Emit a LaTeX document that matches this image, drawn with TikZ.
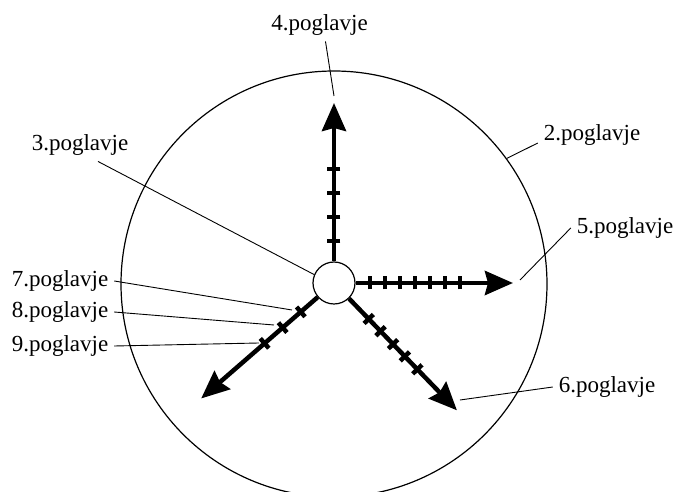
\documentclass[tikz,border=0pt]{standalone}
\usepackage{fontspec}
\setmainfont{Liberation Serif}
\usetikzlibrary{arrows.meta,positioning}

\begin{document}
\begin{tikzpicture}[x=1pt, y=1pt,
    hub/.style={draw, circle, minimum size=42pt, inner sep=0pt, line width=1.2pt, fill=white},
    rim/.style={draw, circle, minimum size=426pt, inner sep=0pt, line width=1.2pt},
    chapter/.style={font=\fontsize{23}{27}\selectfont, inner sep=4pt, outer sep=2pt},
    ray/.style={line width=4.5pt, -{Stealth[length=28pt, width=24pt, inset=3pt]}},
    notch/.style={line width=4.5pt},
    leader/.style={line width=0.9pt},
]

\useasboundingbox (-334,-209) rectangle (344,283);
\clip (-334,-209) rectangle (344,283);

% Circles
\node[rim] (disc) at (0,-1) {};
\node[hub] (hub) at (0,0) {};

% Rays
\coordinate (tipUp) at (90:180);
\coordinate (tipRight) at (0:179);
\coordinate (tipDR) at (-46:177);
\coordinate (tipDL) at (-139:176);
\draw[ray] (hub) -- (tipUp);
\draw[ray] (hub) -- (tipRight);
\draw[ray] (hub) -- (tipDR);
\draw[ray] (hub) -- (tipDL);

% Notches
\foreach \d in {42,66,90,114} \draw[notch, rotate=90] (\d,-6.5) -- (\d,6.5);
\foreach \d in {36,51,66,81,96,111,126} \draw[notch] (\d,-6.5) -- (\d,6.5);
\foreach \d in {50,67,85,102,120} \draw[notch, rotate=-46] (\d,-6.5) -- (\d,6.5);
\foreach \d in {44,68,92} \draw[notch, rotate=-139] (\d,-6.5) -- (\d,6.5);

% Labels
\node[chapter] (ch4) at (-14.5,258) {4.poglavje};
\node[chapter] (ch3) at (-254,138) {3.poglavje};
\node[chapter] (ch2) at (258,148) {2.poglavje};
\node[chapter] (ch5) at (291,55) {5.poglavje};
\node[chapter] (ch6) at (273,-104) {6.poglavje};
\node[chapter] (ch7) at (-274,2) {7.poglavje};
\node[chapter] (ch8) at (-274,-29) {8.poglavje};
\node[chapter] (ch9) at (-274,-63) {9.poglavje};

% Leaders
\coordinate (end4) at (0,187);
\coordinate (end5) at (186,3);
\coordinate (end6) at (126,-117);
\coordinate (end7) at (-42,-27);
\coordinate (end8) at (-60,-42);
\coordinate (end9) at (-75,-60);
\draw[leader] ([xshift=6pt]ch4.south) -- (end4);
\draw[leader] ([xshift=18pt]ch3.south) -- (hub.157);
\draw[leader] ([yshift=-8pt]ch2.west) -- (disc.36);
\draw[leader] (ch5.west) -- (end5);
\draw[leader] (ch6.west) -- (end6);
\draw[leader] (ch7.east) -- (end7);
\draw[leader] (ch8.east) -- (end8);
\draw[leader] (ch9.east) -- (end9);

\end{tikzpicture}
\end{document}
